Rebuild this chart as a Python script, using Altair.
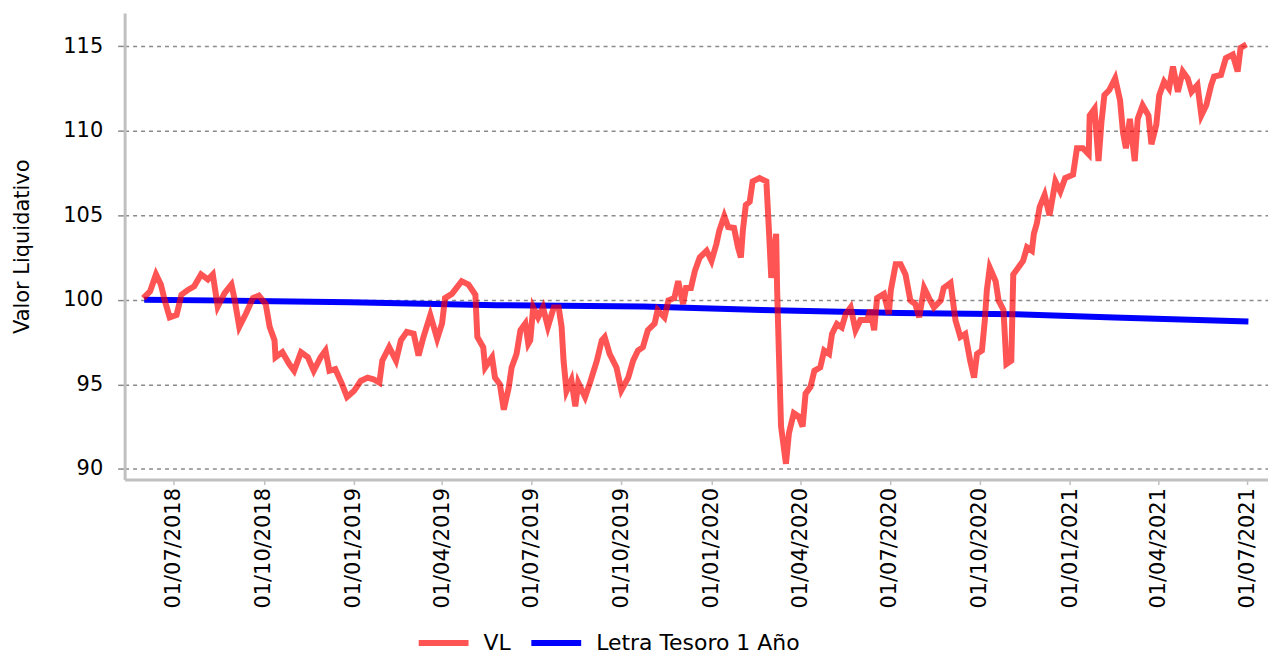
import altair as alt
import pandas as pd

BASE = pd.Timestamp("2018-07-01")

# VL: days since 01/07/2018 and net asset value
vl_days = [
    -31, -24, -18, -13, -9, -4, 3, 8, 15, 21,
    28, 35, 40, 45, 52, 59, 62, 67, 74, 81,
    87, 94, 98, 103, 104, 111, 118, 123, 130, 137,
    143, 150, 155, 159, 165, 172, 177, 184, 191, 198,
    204, 210, 213, 220, 227, 232, 238, 245, 250, 255,
    262, 269, 274, 277, 284, 294, 301, 308, 310, 316,
    318, 325, 328, 333, 337, 342, 345, 350, 354, 359,
    362, 364, 367, 372, 377, 382, 388, 393, 396, 398,
    401, 406, 410, 413, 420, 425, 432, 437, 440, 445,
    452, 457, 464, 469, 474, 479, 484, 491, 494, 501,
    505, 511, 515, 520, 523, 528, 532, 537, 544, 549,
    554, 557, 562, 566, 572, 576, 579, 581, 584, 588,
    591, 598, 605, 608, 610, 615, 616, 618, 620, 625,
    628, 633, 638, 642, 645, 650, 654, 660, 664, 669,
    672, 677, 682, 686, 691, 696, 701, 708, 711, 715,
    718, 725, 730, 732, 737, 742, 747, 752, 757, 761,
    766, 769, 771, 776, 783, 786, 793, 798, 803, 808,
    813, 817, 820, 825, 828, 830, 833, 839, 842, 847,
    850, 855, 857, 862, 867, 871, 876, 878, 881, 884,
    889, 894, 900, 905, 910, 918, 922, 928, 934, 935,
    940, 944, 947, 950, 955, 961, 966, 969, 972, 976,
    981, 984, 989, 995, 998, 1003, 1006, 1011, 1016, 1020,
    1025, 1030, 1035, 1039, 1045, 1049, 1054, 1059, 1062, 1069,
    1074, 1081, 1086, 1089, 1095,
]
vl_vals = [
    100.1, 100.5, 101.5, 100.9, 99.95, 98.96, 99.1, 100.3, 100.6, 100.8,
    101.5, 101.2, 101.5, 99.6, 100.4, 100.9, 100.1, 98.4, 99.2, 100.1,
    100.25, 99.75, 98.4, 97.6, 96.6, 96.9, 96.2, 95.8, 96.9, 96.6,
    95.8, 96.6, 97.0, 95.8, 95.9, 95.0, 94.25, 94.6, 95.2, 95.4,
    95.3, 95.1, 96.4, 97.2, 96.4, 97.6, 98.1, 98.0, 96.7, 97.8,
    99.1, 97.7, 98.6, 100.1, 100.35, 101.1, 100.9, 100.3, 97.8, 97.2,
    96.0, 96.6, 95.4, 95.0, 93.5, 94.8, 96.0, 96.8, 98.2, 98.6,
    97.4, 97.6, 99.55, 98.96, 99.55, 98.4, 99.55, 99.55, 98.4, 96.4,
    94.6, 95.25, 93.7, 95.1, 94.25, 95.1, 96.4, 97.6, 97.8, 96.8,
    96.0, 94.65, 95.4, 96.4, 97.0, 97.2, 98.2, 98.6, 99.4, 98.96,
    99.96, 100.1, 101.1, 99.75, 100.7, 100.7, 101.7, 102.5, 102.9, 102.3,
    103.3, 104.1, 104.95, 104.3, 104.25, 103.1, 102.5, 104.1, 105.6, 105.8,
    107.0, 107.2, 107.0, 103.7, 101.3, 103.9, 100.55, 96.4, 92.5, 90.3,
    92.1, 93.3, 93.1, 92.5, 94.45, 94.85, 95.8, 96.0, 97.0, 96.8,
    97.98, 98.57, 98.37, 99.16, 99.55, 98.2, 98.8, 98.8, 99.4, 98.2,
    100.1, 100.35, 99.16, 100.55, 102.1, 102.1, 101.5, 99.96, 99.75, 98.96,
    100.7, 100.35, 100.1, 99.55, 99.96, 100.7, 101.0, 98.8, 97.8, 97.98,
    96.4, 95.4, 96.8, 97.0, 98.8, 100.55, 101.9, 101.1, 99.96, 99.4,
    96.2, 96.4, 101.5, 101.9, 102.3, 103.1, 102.9, 103.9, 104.5, 105.5,
    106.2, 105.0, 107.0, 106.4, 107.2, 107.4, 108.96, 108.96, 108.6, 110.9,
    111.3, 108.2, 110.5, 112.1, 112.4, 113.1, 111.8, 109.9, 108.96, 110.7,
    108.2, 110.7, 111.5, 110.9, 109.2, 110.35, 112.1, 112.9, 112.5, 113.8,
    112.3, 113.5, 113.1, 112.3, 112.7, 110.9, 111.5, 112.7, 113.2, 113.3,
    114.3, 114.5, 113.5, 114.9, 115.1,
]

# Letra Tesoro 1 Año
lt_days = [-30, 60, 180, 330, 480, 600, 740, 860, 960, 1097]
lt_vals = [100.0, 99.95, 99.85, 99.68, 99.6, 99.4, 99.22, 99.15, 98.95, 98.72]

series_names = ["VL", "Letra Tesoro 1 Año"]
y_ticks = [90, 95, 100, 105, 110, 115]
x_tick_months = [(2018, 7), (2018, 10), (2019, 1), (2019, 4), (2019, 7), (2019, 10),
                 (2020, 1), (2020, 4), (2020, 7), (2020, 10), (2021, 1), (2021, 4), (2021, 7)]

assert len(vl_days) == len(vl_vals)

df_vl = pd.DataFrame({"fecha": BASE + pd.to_timedelta(vl_days, unit="D"),
                      "valor": vl_vals, "serie": series_names[0]})
df_lt = pd.DataFrame({"fecha": BASE + pd.to_timedelta(lt_days, unit="D"),
                      "valor": lt_vals, "serie": series_names[1]})

FONT = "DejaVu Sans"

x_enc = alt.X(
    "fecha:T",
    scale=alt.Scale(domain=[alt.DateTime(year=2018, month=5, date=12),
                            alt.DateTime(year=2021, month=7, date=22)]),
    axis=alt.Axis(
        values=[alt.DateTime(year=y, month=m, date=1) for y, m in x_tick_months],
        format="%d/%m/%Y", labelAngle=270, title=None, grid=False,
        labelFontSize=21, labelPadding=3, tickSize=5, tickColor="#c0c0c0",
        tickWidth=1.5, labelOverlap=False, labelFlush=False,
    ),
)
y_enc = alt.Y(
    "valor:Q",
    scale=alt.Scale(domain=[89.37, 116.96], nice=False, zero=False),
    axis=alt.Axis(
        values=y_ticks, title="Valor Liquidativo", grid=True,
        gridDash=[4, 4], gridColor="#8a8a8a", gridWidth=1.5,
        labelFontSize=21, labelPadding=15, tickSize=7, tickColor="#8a8a8a",
        tickWidth=1.5, titleFontSize=21, titleX=-92,
    ),
)
color_enc = alt.Color(
    "serie:N",
    scale=alt.Scale(domain=series_names, range=["rgba(255,0,0,0.67)", "#0000ff"]),
    legend=alt.Legend(
        title=None, orient="none", direction="horizontal", legendX=292, legendY=604,
        symbolType="stroke", symbolSize=2500, symbolStrokeWidth=6,
        labelFontSize=22, labelOffset=12, columnPadding=8, labelFont=FONT,
        labelColor="black", labelLimit=400,
    ),
)

blue = alt.Chart(df_lt).mark_line(strokeWidth=6).encode(x=x_enc, y=y_enc, color=color_enc)
red = alt.Chart(df_vl).mark_line(strokeWidth=6).encode(x=x_enc, y=y_enc, color=color_enc)

chart = (
    alt.layer(blue, red)
    .properties(
        width=1147, height=468,
        autosize=alt.AutoSizeParams(type="none"),
        padding={"left": 117, "top": 4, "right": 0, "bottom": 176},
    )
    .configure_view(stroke=None)
    .configure_axis(
        labelFont=FONT, titleFont=FONT, labelColor="black", titleColor="black",
        titleFontWeight="normal", domainColor="#c0c0c0", domainWidth=3,
    )
)

chart.save("out.html", embed_options={"renderer": "svg", "actions": False})
